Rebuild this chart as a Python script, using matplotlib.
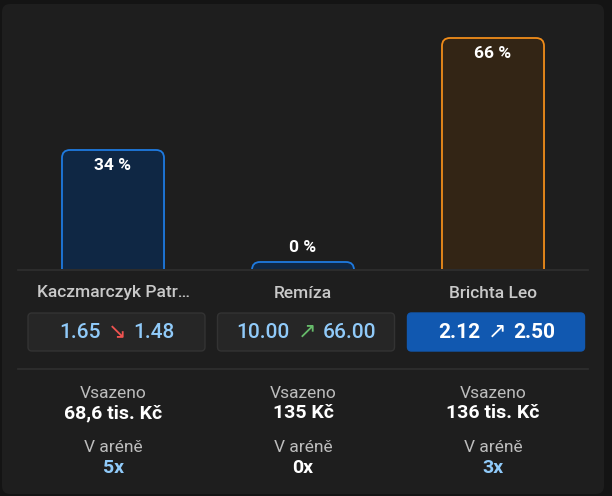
import matplotlib.pyplot as plt
from matplotlib.patches import FancyBboxPatch

plt.rcParams['font.family'] = ['Roboto', 'DejaVu Sans']

names = ["Kaczmarczyk Patr…", "Remíza", "Brichta Leo"]
shares = [34, 0, 66]
odds_old = ["1.65", "10.00", "2.12"]
odds_new = ["1.48", "66.00", "2.50"]
trend = ["down", "up", "up"]
staked = ["68,6 tis. Kč", "135 Kč", "136 tis. Kč"]
in_arena = ["5x", "0x", "3x"]
highlight = 2

W, H = 612, 496
fig = plt.figure(figsize=(W / 100, H / 100), dpi=100)
fig.patch.set_facecolor('#141414')

# overlay in pixel units
ov = fig.add_axes([0, 0, 1, 1])
ov.set_xlim(0, W)
ov.set_ylim(H, 0)
ov.axis('off')
ov.add_patch(FancyBboxPatch((2, 4), 602, 490, boxstyle="round,pad=0,rounding_size=8",
                            fc='#1e1e1e', ec='none'))
ov.plot([18, 588], [269.5, 269.5], color='#303030', lw=1.2, zorder=5)
ov.plot([18, 588], [369, 369], color='#303030', lw=1.2)

# bar chart axes: x 18..588 px, baseline at 269 px, 3.5 px per percent
ymax = 70
px_x = 570 / 3.0      # px per x unit
px_y = 3.5            # px per y unit
top_px = 269 - px_y * ymax
ax = fig.add_axes([18 / W, 1 - 269 / H, 570 / W, (269 - top_px) / H])
ax.set_xlim(-0.5, 2.5)
ax.set_ylim(0, ymax)
ax.axis('off')
ax.patch.set_alpha(0)

bw = 0.537
for i, v in enumerate(shares):
    h = max(v, 2)
    if i == highlight:
        fc, ec = '#332515', '#f08c1a'
    else:
        fc, ec = '#0f2744', '#1e7ae0'
    r = 8 / px_x
    p = FancyBboxPatch((i - bw / 2, -5), bw, h + 5,
                       boxstyle="round,pad=0,rounding_size=%f" % r,
                       mutation_aspect=px_x / px_y, fc=fc, ec=ec, lw=1.3)
    ax.add_patch(p)
    if v >= 10:
        ax.text(i, h - 16 / px_y, f"{v} %", ha='center', va='center',
                color='white', fontsize=12.5, fontweight='bold')
    else:
        ax.text(i, h + 14 / px_y, f"{v} %", ha='center', va='center',
                color='white', fontsize=12.5, fontweight='bold')

centers = [113, 303, 493]
box_centers = [116.5, 306, 496]
for i, c in enumerate(centers):
    bc = box_centers[i]
    ov.text(c, 293, names[i], ha='center', va='center', color='#c9c9c9',
            fontsize=12.5, fontweight='medium')
    hl = i == highlight
    ov.add_patch(FancyBboxPatch((bc - 88.5, 313), 177, 38,
                                boxstyle="round,pad=0,rounding_size=4",
                                fc='#1158b0' if hl else '#262626',
                                ec='#1158b0' if hl else '#333333', lw=1))
    tc = 'white' if hl else '#90caf9'
    if hl:
        ac = 'white'
    else:
        ac = '#ef5350' if trend[i] == 'down' else '#66bb6a'
    arrow = '↘' if trend[i] == 'down' else '↗'
    fw = 'bold' if hl else 'medium'
    ov.text(bc - 16, 332, odds_old[i], ha='right', va='center', color=tc,
            fontsize=15, fontweight=fw)
    ov.text(bc + 1, 332, arrow, ha='center', va='center', color=ac,
            fontsize=16, family=['DejaVu Sans'])
    ov.text(bc + 17, 332, odds_new[i], ha='left', va='center', color=tc,
            fontsize=15, fontweight=fw)

    ov.text(c, 393, "Vsazeno", ha='center', va='center', color='#bdbdbd',
            fontsize=12.5)
    ov.text(c, 413, staked[i], ha='center', va='center', color='white',
            fontsize=14, fontweight='bold')
    ov.text(c, 447, "V aréně", ha='center', va='center', color='#bdbdbd',
            fontsize=12.5)
    ov.text(c, 468, in_arena[i], ha='center', va='center',
            color='white' if in_arena[i] == '0x' else '#90caf9',
            fontsize=14, fontweight='bold')

fig.savefig('out.png', dpi=100, facecolor=fig.get_facecolor())
